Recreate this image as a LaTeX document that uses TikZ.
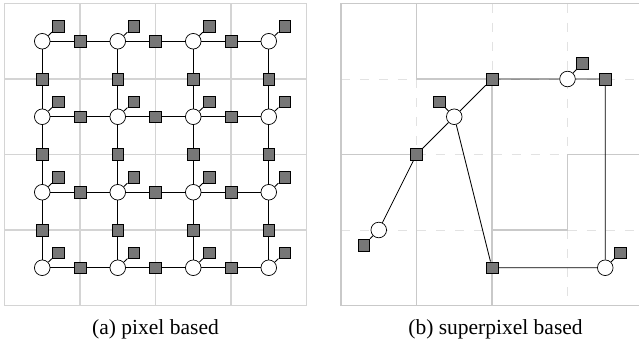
\documentclass[tikz,border=0pt]{standalone}
\usepackage{fontspec}
\setmainfont{Liberation Serif}
\definecolor{gridgray}{HTML}{D4D4D4}
\definecolor{dashgray}{HTML}{E2E2E2}
\definecolor{facfill}{HTML}{777777}
\begin{document}
\begin{tikzpicture}[x=1pt,y=-1pt,
  gridline/.style={draw=gridgray,line width=1.3pt},
  spline/.style={draw=gridgray!95!black,line width=1.9pt},
  dashline/.style={draw=dashgray,line width=0.9pt,dash pattern=on 9pt off 10pt},
  varnode/.style={circle,draw=black,fill=white,line width=0.7pt,minimum size=15.6pt,inner sep=0pt},
  facnode/.style={rectangle,draw=black,fill=facfill,line width=0.7pt,minimum size=11.8pt,inner sep=0pt},
  edgeline/.style={draw=black,line width=0.85pt},
  caption/.style={anchor=base,font=\fontsize{21.5}{26}\selectfont}]
\useasboundingbox (0,0) rectangle (639,343);

% ---------- (a) pixel grid ----------
\begin{scope}[shift={(4.5,3.5)},x=75.5pt,y=-75.5pt]
  \draw[gridline] (0,0) rectangle (4,4);
  \foreach \k in {1,2,3} {
    \draw[gridline] (\k,0) -- (\k,4);
    \draw[gridline] (0,\k) -- (4,\k);
  }
  % pixel variables
  \foreach \i in {0,...,3} {
    \foreach \j in {0,...,3} {
      \node[varnode] (p-\i-\j) at (\i+0.5,\j+0.5) {};
    }
  }
  % unary factors
  \foreach \i in {0,...,3} {
    \foreach \j in {0,...,3} {
      \node[facnode] (u-\i-\j) at ([shift={(16pt,15pt)}]p-\i-\j.center) {};
      \draw[edgeline] (p-\i-\j) -- (u-\i-\j);
    }
  }
  % pairwise factors, horizontal
  \foreach \i [evaluate=\i as \ii using int(\i+1)] in {0,1,2} {
    \foreach \j in {0,...,3} {
      \node[facnode] (h-\i-\j) at (\i+1,\j+0.5) {};
      \draw[edgeline] (p-\i-\j) -- (h-\i-\j) -- (p-\ii-\j);
    }
  }
  % pairwise factors, vertical
  \foreach \i in {0,...,3} {
    \foreach \j [evaluate=\j as \jj using int(\j+1)] in {0,1,2} {
      \node[facnode] (v-\i-\j) at (\i+0.5,\j+1) {};
      \draw[edgeline] (p-\i-\j) -- (v-\i-\j) -- (p-\i-\jj);
    }
  }
\end{scope}

% ---------- (b) superpixel graph ----------
\begin{scope}[shift={(341,3.5)},x=75.5pt,y=-75.5pt]
  % pixel grid underneath
  \draw[dashline] (1,1) -- (1,2);
  \draw[dashline] (2,0) -- (2,1);
  \draw[dashline] (3,0) -- (3,2);
  \draw[dashline] (3,3) -- (3,4);
  \draw[dashline] (0,1) -- (1,1);
  \draw[dashline] (2,1) -- (4,1);
  \draw[dashline] (1,2) -- (3,2);
  \draw[dashline] (0,3) -- (2,3);
  \draw[dashline] (3,3) -- (4,3);
  % superpixel boundaries
  \draw[spline] (0,0) rectangle (4,4);
  \draw[spline] (1,0) -- (1,1) -- (2,1) -- (2,4);
  \draw[spline] (0,2) -- (1,2) -- (1,4);
  \draw[spline] (2,3) -- (3,3) -- (3,2) -- (4,2);
  % superpixel variables
  \node[varnode] (sb) at (3,1) {};
  \node[varnode] (sd) at (1.5,1.5) {};
  \node[varnode] (sf) at (0.5,3) {};
  \node[varnode] (sh) at (3.5,3.5) {};
  % pairwise factors
  \node[facnode] (fa) at (2,1) {};
  \node[facnode] (fc) at (3.5,1) {};
  \node[facnode] (fe) at (1,2) {};
  \node[facnode] (fg) at (2,3.5) {};
  % unary factors
  \node[facnode] (ub) at ([shift={(15pt,16pt)}]sb.center) {};
  \node[facnode] (ud) at ([shift={(-15pt,15pt)}]sd.center) {};
  \node[facnode] (uf) at ([shift={(-15pt,-15pt)}]sf.center) {};
  \node[facnode] (uh) at ([shift={(15pt,15pt)}]sh.center) {};
  \draw[edgeline] (sb) -- (ub);
  \draw[edgeline] (sd) -- (ud);
  \draw[edgeline] (sf) -- (uf);
  \draw[edgeline] (sh) -- (uh);
  % graph edges
  \draw[edgeline] (sf) -- (fe) -- (sd) -- (fa) -- (sb) -- (fc) -- (sh) -- (fg) -- (sd);
\end{scope}

% ---------- captions ----------
\node[caption] (capa) at (155.5,334) {(a) pixel based};
\node[caption] (capb) at (495.5,334) {(b) superpixel based};
\end{tikzpicture}
\end{document}
